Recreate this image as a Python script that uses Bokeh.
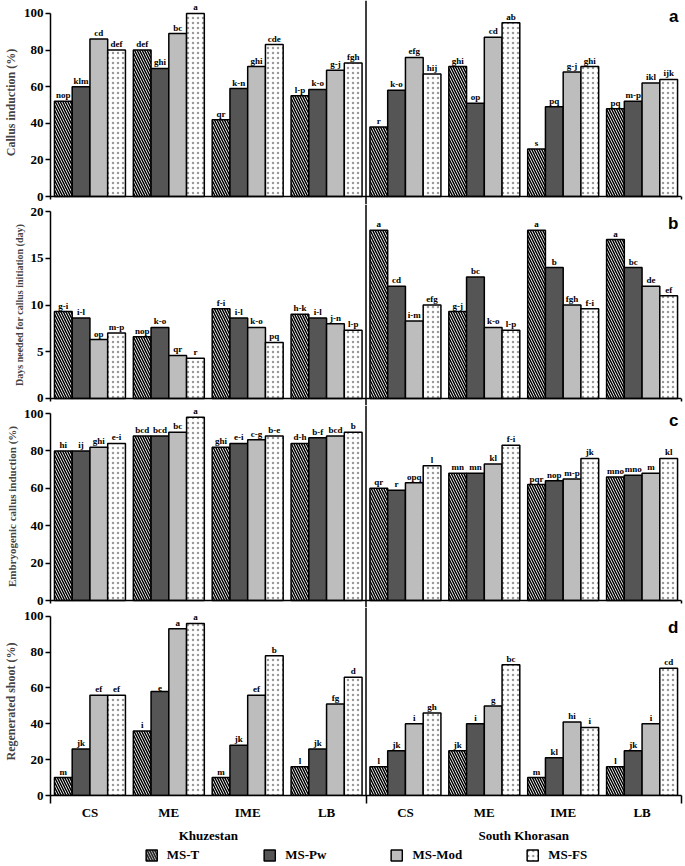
import numpy as np
from bokeh.plotting import figure
from bokeh.models import (ColumnDataSource, Range1d, Span, FixedTicker, LinearAxis,
                          Legend, LegendItem, Label)
from bokeh.layouts import column
from bokeh.embed import file_html
from bokeh.resources import INLINE
from bokeh.core.properties import value

# ---------------- data ----------------
groups = ["CS", "ME", "IME", "LB", "CS", "ME", "IME", "LB"]
regions = ["Khuzestan", "South Khorasan"]
media = ["MS-T", "MS-Pw", "MS-Mod", "MS-FS"]

callus_T = [52, 80, 42, 55, 38, 71, 26, 48]
callus_Pw = [60, 70, 59, 58.5, 58, 51, 49, 52]
callus_Mod = [86, 89, 71, 69, 76, 87, 68, 62]
callus_FS = [80, 100, 83, 73, 67, 95, 71, 64]
callus_T_let = ["nop", "def", "qr", "l-p", "r", "ghi", "s", "pq"]
callus_Pw_let = ["klm", "ghi", "k-n", "k-o", "k-o", "op", "pq", "m-p"]
callus_Mod_let = ["cd", "bc", "ghi", "g-j", "efg", "cd", "g-j", "ikl"]
callus_FS_let = ["def", "a", "cde", "fgh", "hij", "ab", "ghi", "ijk"]

days_T = [9.3, 6.6, 9.6, 9.0, 18.0, 9.3, 18.0, 17.0]
days_Pw = [8.6, 7.6, 8.6, 8.6, 12.0, 13.0, 14.0, 14.0]
days_Mod = [6.3, 4.6, 7.6, 8.0, 8.3, 7.6, 10.0, 12.0]
days_FS = [7.0, 4.3, 6.0, 7.3, 10.0, 7.3, 9.6, 11.0]
days_T_let = ["g-i", "nop", "f-i", "h-k", "a", "g-j", "a", "a"]
days_Pw_let = ["i-l", "k-o", "i-l", "i-l", "cd", "bc", "b", "bc"]
days_Mod_let = ["op", "qr", "k-o", "j-n", "i-m", "k-o", "fgh", "de"]
days_FS_let = ["m-p", "r", "pq", "l-p", "efg", "l-p", "f-i", "ef"]

embryo_T = [80, 88, 82, 84, 60, 68, 62, 66]
embryo_Pw = [80, 88, 84, 87, 59, 68, 64, 67]
embryo_Mod = [82, 90, 86, 88, 63, 73, 65, 68]
embryo_FS = [84, 98, 88, 90, 72, 83, 76, 76]
embryo_T_let = ["hi", "bcd", "ghi", "d-h", "qr", "mn", "pqr", "mno"]
embryo_Pw_let = ["ij", "bcd", "e-i", "b-f", "r", "mn", "nop", "mno"]
embryo_Mod_let = ["ghi", "bc", "c-g", "bcd", "opq", "kl", "m-p", "m"]
embryo_FS_let = ["e-i", "a", "b-e", "b", "l", "f-i", "jk", "kl"]

shoot_T = [10, 36, 10, 16, 16, 25, 10, 16]
shoot_Pw = [26, 58, 28, 26, 25, 40, 21, 25]
shoot_Mod = [56, 93, 56, 51, 40, 50, 41, 40]
shoot_FS = [56, 96, 78, 66, 46, 73, 38, 71]
shoot_T_let = ["m", "i", "m", "l", "l", "jk", "m", "l"]
shoot_Pw_let = ["jk", "e", "jk", "jk", "jk", "i", "kl", "jk"]
shoot_Mod_let = ["ef", "a", "ef", "fg", "i", "g", "hi", "i"]
shoot_FS_let = ["ef", "a", "b", "d", "gh", "bc", "i", "cd"]

# ---------------- styling ----------------
SERIF = "Liberation Serif"
BAR_W = 0.225
OFFSETS = [-1.5 * BAR_W, -0.5 * BAR_W, 0.5 * BAR_W, 1.5 * BAR_W]
STYLES = [
    dict(fill_color="white", hatch_pattern="\\", hatch_color="black",
         hatch_weight=1.5, hatch_scale=5),
    dict(fill_color="#555555"),
    dict(fill_color="#bdbdbd"),
    dict(fill_color="white", hatch_pattern=".", hatch_color="#9a9a9a",
         hatch_weight=0.3, hatch_scale=5),
]
W = 683
MBL = 49
MBR = 2
X_BASE = np.arange(len(groups)) + 0.5


def base_fig(height, yr, bottom=False):
    p = figure(width=W, height=height, x_range=Range1d(0, 8), y_range=Range1d(*yr),
               output_backend="svg", toolbar_location=None,
               x_axis_location=("below" if bottom else None),
               min_border_left=MBL, min_border_right=MBR,
               min_border_top=0, min_border_bottom=0)
    p.outline_line_color = None
    p.xgrid.visible = False
    p.ygrid.visible = False
    return p


def make_panel(series, letters, yr, ticks, bounds, ylabel, ylabel_size,
               tag, tag_y, height, bottom=False):
    p = base_fig(height, yr, bottom)
    for i, (vals, labs) in enumerate(zip(series, letters)):
        src = ColumnDataSource(dict(x=X_BASE + OFFSETS[i], top=vals, lab=labs))
        p.vbar(x="x", top="top", bottom=0, width=BAR_W, source=src,
               line_color="black", line_width=1.5, **STYLES[i])
        p.text(x="x", y="top", text="lab", source=src,
               text_font=value(SERIF), text_font_style="bold",
               text_font_size="9px", text_align="center",
               text_baseline="bottom", y_offset=-1, text_color="black")

    ya = p.yaxis[0]
    ya.ticker = FixedTicker(ticks=ticks)
    ya.bounds = bounds
    ya.axis_line_width = 1.5
    ya.major_tick_line_width = 1.5
    ya.major_tick_out = 5
    ya.major_tick_in = 0
    ya.minor_tick_out = 0
    ya.minor_tick_in = 0
    ya.major_label_standoff = 2
    ya.major_label_text_font = SERIF
    ya.major_label_text_font_style = "bold"
    ya.major_label_text_font_size = "13px"
    ya.major_label_text_color = "black"
    ya.axis_label = ylabel
    ya.axis_label_text_font = SERIF
    ya.axis_label_text_font_style = "bold"
    ya.axis_label_text_font_size = ylabel_size
    ya.axis_label_standoff = 3

    # short right-hand end tick of each panel's baseline
    rax = LinearAxis(ticker=FixedTicker(ticks=[], minor_ticks=[]),
                     bounds=(bounds[0], 0), axis_line_width=1.5,
                     axis_line_color=(None if bottom else "black"),
                     major_tick_out=0, major_tick_in=0, minor_tick_out=0, minor_tick_in=0,
                     major_label_standoff=0, major_label_text_font_size="0px")
    p.add_layout(rax, "right")

    p.add_layout(Span(location=4, dimension="height", line_color="black", line_width=1.5))
    if not bottom:
        p.add_layout(Span(location=0, dimension="width", line_color="black", line_width=1.5))

    p.add_layout(Label(x=7.962, y=tag_y, text=tag, text_align="right",
                       text_baseline="alphabetic", text_font="Liberation Sans",
                       text_font_style="bold", text_font_size="17px", text_color="black"))

    if bottom:
        xa = p.xaxis[0]
        centers = list(X_BASE)
        xa.ticker = FixedTicker(ticks=centers, minor_ticks=[0, 4, 8])
        xa.major_label_overrides = {float(c): g for c, g in zip(centers, groups)}
        xa.axis_line_width = 1.5
        xa.major_tick_out = 0
        xa.major_tick_in = 0
        xa.minor_tick_out = 8
        xa.minor_tick_in = 0
        xa.minor_tick_line_width = 1.5
        xa.major_label_standoff = 1
        xa.major_label_text_font = SERIF
        xa.major_label_text_font_style = "bold"
        xa.major_label_text_font_size = "13px"
        xa.major_label_text_color = "black"

        ra = LinearAxis(ticker=FixedTicker(ticks=[2, 6], minor_ticks=[]),
                        major_label_overrides={2: regions[0], 6: regions[1]},
                        axis_line_color=None, major_tick_line_color=None,
                        minor_tick_line_color=None, major_tick_out=0, major_tick_in=0,
                        major_label_standoff=5,
                        major_label_text_font=SERIF, major_label_text_font_style="bold",
                        major_label_text_font_size="13px", major_label_text_color="black")
        p.add_layout(ra, "below")
    return p


pa = make_panel([callus_T, callus_Pw, callus_Mod, callus_FS],
                [callus_T_let, callus_Pw_let, callus_Mod_let, callus_FS_let],
                (-4.37, 107.1), [0, 20, 40, 60, 80, 100], (-1.64, 100),
                "Callus induction (%)", "12px", "a", 98.4, 204)
pb = make_panel([days_T, days_Pw, days_Mod, days_FS],
                [days_T_let, days_Pw_let, days_Mod_let, days_FS_let],
                (-0.749, 20.749), [0, 5, 10, 15, 20], (-0.32, 20),
                "Days needed for callus initiation (day)", "10px", "b", 18.72, 201)
pc = make_panel([embryo_T, embryo_Pw, embryo_Mod, embryo_FS],
                [embryo_T_let, embryo_Pw_let, embryo_Mod_let, embryo_FS_let],
                (-3.74, 104.28), [0, 20, 40, 60, 80, 100], (-1.6, 100),
                "Embryogenic callus induction (%)", "11px", "c", 96.26, 202)
pd_ = make_panel([shoot_T, shoot_Pw, shoot_Mod, shoot_FS],
                 [shoot_T_let, shoot_Pw_let, shoot_Mod_let, shoot_FS_let],
                 (0, 104.89), [0, 20, 40, 60, 80, 100], (0, 100),
                 "Regenerated shoot (%)", "12px", "d", 93.5, 238, bottom=True)

# legend strip: series renderers kept hidden, only their legend swatches show
pl = base_fig(19, (0, 1))
pl.yaxis.visible = False
leg_series = [shoot_T, shoot_Pw, shoot_Mod, shoot_FS]
leg_renderers = []
for i in range(4):
    r = pl.vbar(x=X_BASE + OFFSETS[i], top=leg_series[i], bottom=0, width=BAR_W,
                line_color="black", line_width=1.5, **STYLES[i])
    r.visible = False
    leg_renderers.append(r)
legend = Legend(items=[LegendItem(label=m, renderers=[r]) for m, r in zip(media, leg_renderers)],
                orientation="horizontal", location="center", spacing=63,
                padding=0, margin=0, glyph_width=14, glyph_height=14,
                label_standoff=9, label_height=14,
                label_text_font=SERIF, label_text_font_style="bold",
                label_text_font_size="13px", label_text_color="black",
                border_line_color=None, background_fill_alpha=0,
                inactive_fill_alpha=0, click_policy="none")
pl.add_layout(legend)

layout = column(pa, pb, pc, pd_, pl, spacing=0)
open("out.html", "w").write(file_html(layout, INLINE))
